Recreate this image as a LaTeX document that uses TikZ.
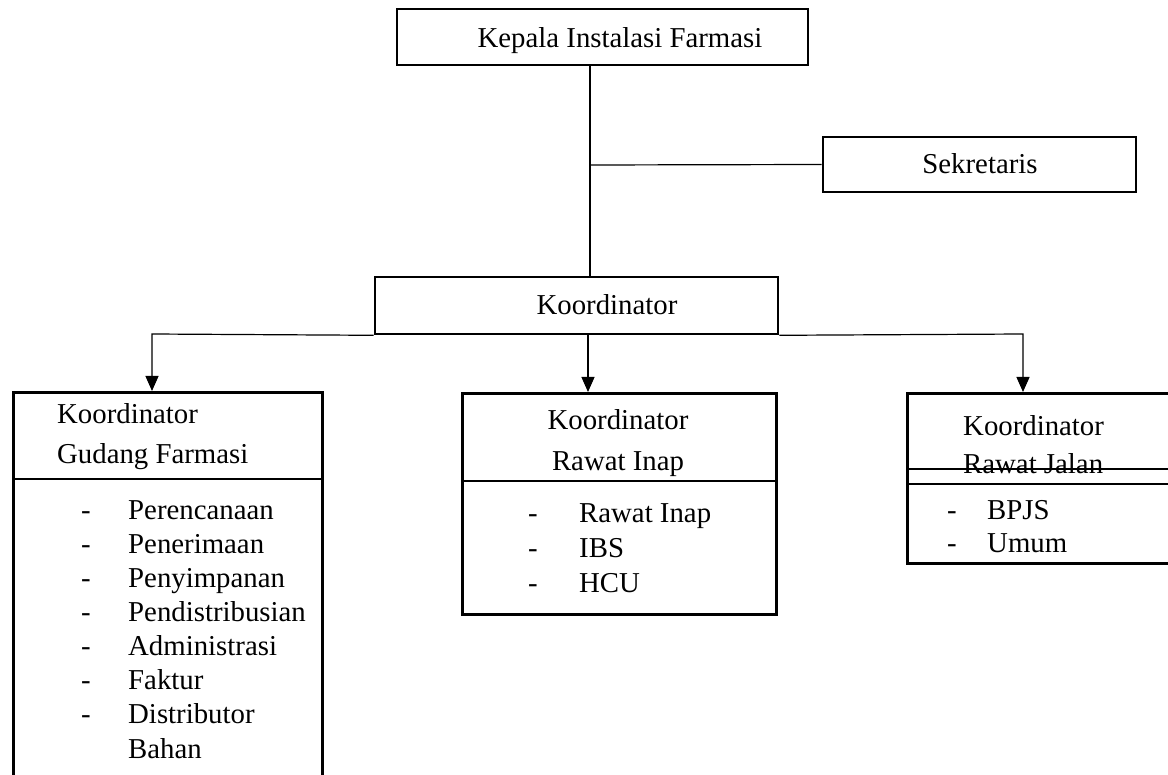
\documentclass[tikz,border=0pt]{standalone}
\usepackage{fontspec}
\setmainfont{Liberation Serif}
\usetikzlibrary{arrows.meta}
\begin{document}
\begin{tikzpicture}[x=1pt,y=-1pt,
  boxline/.style={draw=black,line width=2.6pt},
  conn/.style={draw=black,line width=1.2pt},
  arr/.style={conn,-{Triangle[width=13pt,length=15pt]}},
  txt/.style={inner sep=0pt,font=\fontsize{28.8}{34}\selectfont},
  lt/.style={txt,anchor=base west},
  ct/.style={txt,anchor=base},
  dashmark/.style={txt,anchor=base}]
\useasboundingbox (0,0) rectangle (1168,775);
\clip (0,0) rectangle (1168,775);
% boxes
\node[boxline,inner sep=0pt,minimum width=411pt,minimum height=56pt] (kepala) at (602.5,37) {};
\node[ct] (kepalaT) at (620,48) {Kepala Instalasi Farmasi};
\node[boxline,inner sep=0pt,minimum width=313pt,minimum height=55pt] (sek) at (979.5,164.5) {};
\node[ct] (sekT) at (980,174) {Sekretaris};
\node[boxline,inner sep=0pt,minimum width=403pt,minimum height=57pt] (koor) at (576.5,305.5) {};
\node[ct] (koorT) at (607,315) {Koordinator};
% left box
\node[boxline,inner sep=0pt,minimum width=309pt,minimum height=420pt,anchor=north west] (gud) at (12,391) {};
\coordinate (gudDivL) at (12,479);
\coordinate (gudDivR) at (321,479);
\draw[boxline] (gudDivL) -- (gudDivR);
\node[lt] (g1) at (57,424) {Koordinator};
\node[lt] (g2) at (57,464) {Gudang Farmasi};
\foreach \t [count=\i] in {Perencanaan,Penerimaan,Penyimpanan,Pendistribusian,Administrasi,Faktur,Distributor}{
  \node[dashmark] (gd\i) at (86,{519+34*(\i-1)}) {-};
  \node[lt] (gi\i) at (128,{519+34*(\i-1)}) {\t};
}
\node[lt] (gi8) at (128,758) {Bahan};
% middle box
\node[boxline,inner sep=0pt,minimum width=314pt,minimum height=221pt,anchor=north west] (ri) at (461,392) {};
\coordinate (riDivL) at (461,481);
\coordinate (riDivR) at (775,481);
\draw[boxline] (riDivL) -- (riDivR);
\node[ct] (r1) at (618,430) {Koordinator};
\node[ct] (r2) at (618,471) {Rawat Inap};
\node[dashmark] (rd1) at (533,522) {-};
\node[lt] (ri1) at (579,522) {Rawat Inap};
\node[dashmark] (rd2) at (533,557) {-};
\node[lt] (ri2) at (579,557) {IBS};
\node[dashmark] (rd3) at (533,592) {-};
\node[lt] (ri3) at (579,592) {HCU};
% right box
\node[boxline,inner sep=0pt,minimum width=300pt,minimum height=170pt,anchor=north west] (rj) at (906,392) {};
\node[lt] (j1) at (963,436) {Koordinator};
\node[lt] (j2) at (963,474) {Rawat Jalan};
\coordinate (rjA) at (906,469);
\coordinate (rjB) at (1206,469);
\coordinate (rjC) at (906,484);
\coordinate (rjD) at (1206,484);
\draw[boxline] (rjA) -- (rjB);
\draw[boxline] (rjC) -- (rjD);
\node[dashmark] (jd1) at (952,519) {-};
\node[lt] (ji1) at (987,519) {BPJS};
\node[dashmark] (jd2) at (952,552) {-};
\node[lt] (ji2) at (987,552) {Umum};
% connectors
\coordinate (v1) at (590,165);
\draw[conn] (kepala.south -| v1) -- (koor.north -| v1);
\draw[conn] (v1) -- (sek.west);
\coordinate (lc) at (152,334);
\coordinate (mc) at (588,334);
\coordinate (rc) at (1023,334);
\draw[arr] (koor.south west) -- (lc) -- (lc |- gud.north);
\draw[arr] (mc) -- (mc |- ri.north);
\draw[arr] (koor.south east) -- (rc) -- (rc |- rj.north);
\end{tikzpicture}
\end{document}
